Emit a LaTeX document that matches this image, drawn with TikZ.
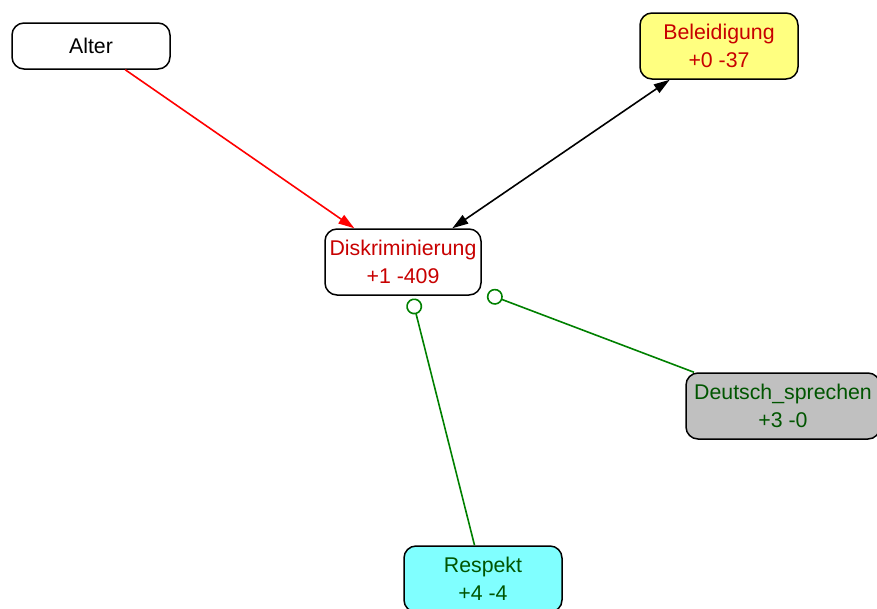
\documentclass[tikz,border=0pt]{standalone}
\usepackage{fontspec}
\setmainfont{Liberation Sans}
\usetikzlibrary{arrows.meta}
\definecolor{txtred}{RGB}{200,0,0}
\definecolor{txtgreen}{RGB}{0,85,0}
\definecolor{edgegreen}{RGB}{0,128,0}
\definecolor{fillyellow}{RGB}{255,255,128}
\definecolor{fillcyan}{RGB}{128,255,255}
\definecolor{fillgray}{RGB}{192,192,192}
\tikzset{
  var/.style={draw=black, line width=1.5pt, rounded corners=12pt, fill=white,
    minimum width=158pt, minimum height=66pt, inner sep=0pt, align=center,
    font=\fontsize{21.3}{28}\selectfont},
  link/.style={line width=1.6pt},
  cause/.style={link, -{Triangle[length=16pt, width=10pt]}},
  mutual/.style={link, {Triangle[length=16pt, width=10pt]}-{Triangle[length=16pt, width=10pt]}},
  oppose/.style={link, draw=edgegreen, {Circle[open, length=16pt, width=16pt, fill=white]}-},
}
\begin{document}
\begin{tikzpicture}[x=1pt, y=-1pt]
  \useasboundingbox (0,0) rectangle (877,608);
  \node[var, minimum height=46pt] (alter) at (91,46) {Alter};
  \node[var, fill=fillyellow, text=txtred] (bel) at (719,46) {Beleidigung\\+0 -37};
  \node[var, minimum width=156pt, text=txtred] (disk) at (403,262) {Diskriminierung\\+1 -409};
  \node[var, minimum width=194pt, fill=fillgray, text=txtgreen] (deutsch) at (783,406) {Deutsch\_sprechen\\+3 -0};
  \node[var, fill=fillcyan, text=txtgreen] (resp) at (483,579) {Respekt\\+4 -4};

  \draw[cause, red] (alter) -- (disk);
  \draw[mutual] (disk) -- (bel);
  \draw[oppose, shorten <=3pt] (disk) -- (resp);
  \draw[oppose, shorten <=6pt] (disk) -- (deutsch);
\end{tikzpicture}
\end{document}
